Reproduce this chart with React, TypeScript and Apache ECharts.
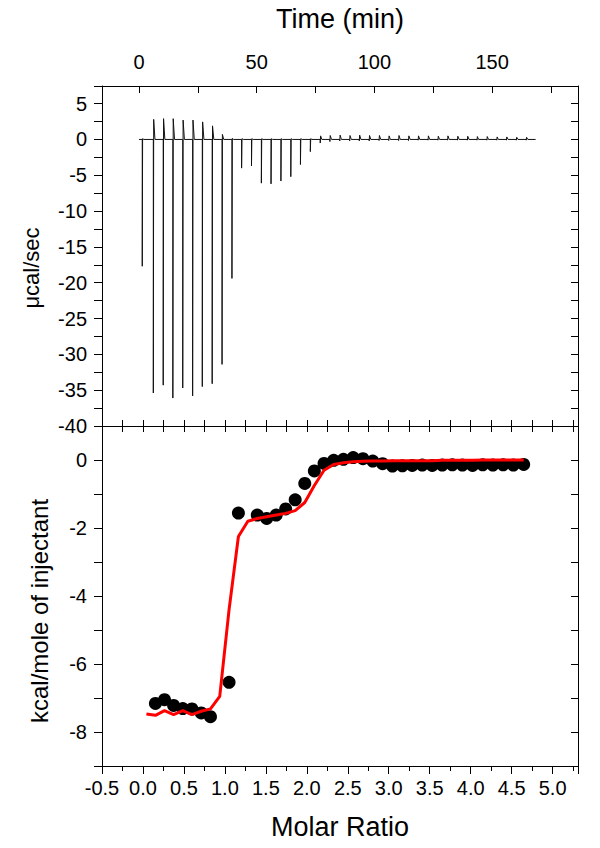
import React, { useEffect, useRef } from "react";
import * as echarts from "echarts";

// ---- Raw thermogram (top panel) ----
const injTimes = [1.4, 6.1, 10.3, 14.4, 18.6, 22.8, 26.9, 31.1, 35.3, 39.5, 43.6, 47.8, 52.0, 56.1, 60.3, 64.5, 68.6, 72.8, 77.0, 81.1, 85.3, 89.5, 93.6, 97.8, 102.0, 106.1, 110.3, 114.5, 118.6, 122.8, 127.0, 131.1, 135.3, 139.5, 143.6, 147.8, 152.0, 156.1, 160.3, 164.5];
const peakLow = [-17.7, -35.4, -34.3, -36.1, -34.7, -35.8, -34.5, -34.1, -31.4, -19.4, -4.0, -3.7, -6.1, -6.2, -5.8, -5.2, -3.5, -1.7, -0.5, -0.3, -0.2, -0.2, -0.2, -0.2, -0.15, -0.15, -0.15, -0.15, -0.1, -0.1, -0.1, -0.1, -0.1, -0.1, -0.1, -0.1, -0.1, -0.1, -0.1, -0.1];
const peakHigh = [0.1, 2.8, 2.9, 2.9, 2.7, 2.7, 2.45, 1.9, 0.7, 0.15, 0.1, 0.1, 0.1, 0.1, 0.1, 0.1, 0.1, 0.1, 0.5, 0.55, 0.6, 0.55, 0.6, 0.55, 0.55, 0.5, 0.55, 0.5, 0.5, 0.5, 0.45, 0.5, 0.45, 0.45, 0.4, 0.4, 0.35, 0.35, 0.3, 0.3];
const timeStart = 0;
const timeEnd = 168.5;
const timeTickLabels = [0, 50, 100, 150];

// ---- Integrated heats (bottom panel) ----
const molarRatio = [0.042, 0.152, 0.263, 0.374, 0.486, 0.598, 0.711, 0.824, 0.937, 1.051, 1.165, 1.280, 1.395, 1.510, 1.626, 1.742, 1.858, 1.975, 2.092, 2.210, 2.328, 2.447, 2.566, 2.685, 2.805, 2.925, 3.045, 3.166, 3.287, 3.409, 3.531, 3.653, 3.776, 3.899, 4.023, 4.147, 4.271, 4.396, 4.521, 4.647];
const heatData: (number | null)[] = [null, -7.16, -7.05, -7.22, -7.31, -7.32, -7.44, -7.55, null, -6.54, -1.56, null, -1.62, -1.72, -1.62, -1.44, -1.17, -0.69, -0.32, -0.10, -0.01, 0.02, 0.07, 0.04, -0.03, -0.11, -0.18, -0.17, -0.16, -0.15, -0.16, -0.15, -0.14, -0.15, -0.16, -0.14, -0.15, -0.14, -0.15, -0.13];
const heatFit = [-7.47, -7.51, -7.37, -7.49, -7.37, -7.49, -7.39, -7.32, -6.95, -4.4, -2.25, -1.80, -1.72, -1.67, -1.62, -1.57, -1.49, -1.25, -0.75, -0.30, -0.13, -0.08, -0.05, -0.04, -0.03, -0.03, -0.02, -0.02, -0.02, -0.02, -0.02, -0.01, -0.01, -0.01, -0.01, 0.0, 0.0, 0.0, 0.0, 0.0];

const FONT = "'Liberation Sans', Arial, sans-serif";
const TICK_FS = 20;

export default function App() {
  const ref = useRef<HTMLDivElement>(null);
  useEffect(() => {
    if (!ref.current) return;
    const chart = echarts.init(ref.current, null, { renderer: "svg" });

    const thermo: number[][] = [[timeStart, 0]];
    injTimes.forEach((t, i) => {
      thermo.push([t, 0], [t, peakLow[i]], [t + 0.15, peakHigh[i]], [t + 0.7, 0]);
    });
    thermo.push([timeEnd, 0]);

    const dots = molarRatio
      .map((r, i) => [r, heatData[i]])
      .filter((p) => p[1] !== null);
    const fit = molarRatio.map((r, i) => [r, heatFit[i]]);

    const line = { lineStyle: { color: "#000", width: 1 } };
    const near = (v: number, step: number) => Math.abs(v / step - Math.round(v / step)) < 1e-6;

    chart.setOption({
      animation: false,
      textStyle: { fontFamily: FONT },
      grid: [
        { left: 102, top: 86, width: 476, height: 340 },
        { left: 102, top: 426, width: 476, height: 340 },
      ],
      xAxis: [
        {
          gridIndex: 0, type: "value", position: "top",
          min: -15.7, max: 186.5, minInterval: 25, maxInterval: 25, splitNumber: 8,
          axisLine: { show: true, onZero: false, ...line },
          axisTick: { show: true, inside: true, length: 7, ...line },
          axisLabel: {
            margin: 14, fontSize: TICK_FS, color: "#000", fontFamily: FONT,
            showMinLabel: false, showMaxLabel: false,
            formatter: (v: number) => (timeTickLabels.includes(Math.round(v)) && near(v, 50) ? String(Math.round(v)) : ""),
          },
          splitLine: { show: false },
        },
        {
          gridIndex: 0, type: "value", position: "bottom",
          min: -0.5, max: 5.31, interval: 0.25,
          axisLine: { show: true, onZero: false, ...line },
          axisTick: { show: true, inside: true, length: 6, ...line },
          axisLabel: { show: false },
          splitLine: { show: false },
        },
        {
          gridIndex: 1, type: "value", position: "top",
          min: -0.5, max: 5.31, interval: 0.25,
          axisLine: { show: true, onZero: false, ...line },
          axisTick: { show: true, inside: true, length: 6, ...line },
          axisLabel: { show: false },
          splitLine: { show: false },
        },
        {
          gridIndex: 1, type: "value", position: "bottom",
          min: -0.5, max: 5.31, interval: 0.5,
          axisLine: { show: true, onZero: false, ...line },
          axisTick: { show: true, inside: false, length: 8, ...line },
          minorTick: { show: true, splitNumber: 2, length: 5, ...line },
          axisLabel: {
            margin: 12, fontSize: TICK_FS, color: "#000", fontFamily: FONT,
            formatter: (v: number) => (near(v, 0.5) ? v.toFixed(1) : ""),
          },
          splitLine: { show: false },
          minorSplitLine: { show: false },
        },
      ],
      yAxis: [
        {
          gridIndex: 0, type: "value", position: "left",
          min: -40, max: 7.46, interval: 2.5,
          axisLine: { show: true, onZero: false, ...line },
          axisTick: { show: true, inside: false, length: 8, ...line },
          axisLabel: {
            margin: 15, fontSize: TICK_FS, color: "#000", fontFamily: FONT,
            formatter: (v: number) => (near(v, 5) ? String(Math.round(v)) : ""),
          },
          splitLine: { show: false },
        },
        {
          gridIndex: 0, type: "value", position: "right",
          min: -40, max: 7.46, interval: 2.5,
          axisLine: { show: true, onZero: false, ...line },
          axisTick: { show: true, inside: true, length: 7, ...line },
          axisLabel: { show: false },
          splitLine: { show: false },
        },
        {
          gridIndex: 1, type: "value", position: "left",
          min: -9, max: 1, interval: 1,
          axisLine: { show: true, onZero: false, ...line },
          axisTick: { show: true, inside: false, length: 8, ...line },
          axisLabel: {
            margin: 15, fontSize: TICK_FS, color: "#000", fontFamily: FONT,
            formatter: (v: number) => (near(v, 2) && v <= 0 ? String(Math.round(v)) : ""),
          },
          splitLine: { show: false },
        },
        {
          gridIndex: 1, type: "value", position: "right",
          min: -9, max: 1, interval: 1,
          axisLine: { show: true, onZero: false, ...line },
          axisTick: { show: true, inside: true, length: 7, ...line },
          axisLabel: { show: false },
          splitLine: { show: false },
        },
      ],
      graphic: [
        {
          type: "text", x: 340, y: 19,
          style: { text: "Time (min)", font: `27px ${FONT}`, fill: "#000", textAlign: "center", textVerticalAlign: "middle" },
        },
        {
          type: "text", x: 340, y: 827,
          style: { text: "Molar Ratio", font: `27px ${FONT}`, fill: "#000", textAlign: "center", textVerticalAlign: "middle" },
        },
        {
          type: "text", x: 31, y: 268, rotation: Math.PI / 2,
          style: { text: "\u03bccal/sec", font: `22px ${FONT}`, fill: "#000", textAlign: "center", textVerticalAlign: "middle" },
        },
        {
          type: "text", x: 39, y: 611, rotation: Math.PI / 2,
          style: { text: "kcal/mole of injectant", font: `24px ${FONT}`, fill: "#000", textAlign: "center", textVerticalAlign: "middle" },
        },
      ],
      series: [
        {
          type: "line", xAxisIndex: 0, yAxisIndex: 0, data: thermo,
          symbol: "none", lineStyle: { color: "#111", width: 1 }, z: 2,
        },
        {
          type: "scatter", xAxisIndex: 3, yAxisIndex: 2, data: dots,
          symbol: "circle", symbolSize: 13, itemStyle: { color: "#000", opacity: 1 }, z: 2,
        },
        {
          type: "line", xAxisIndex: 3, yAxisIndex: 2, data: fit,
          symbol: "none", lineStyle: { color: "#ff0000", width: 3 }, z: 3,
        },
      ],
    });
    return () => chart.dispose();
  }, []);
  return <div ref={ref} style={{ width: 600, height: 848, position: "absolute", left: 0, top: 0 }} />;
}
